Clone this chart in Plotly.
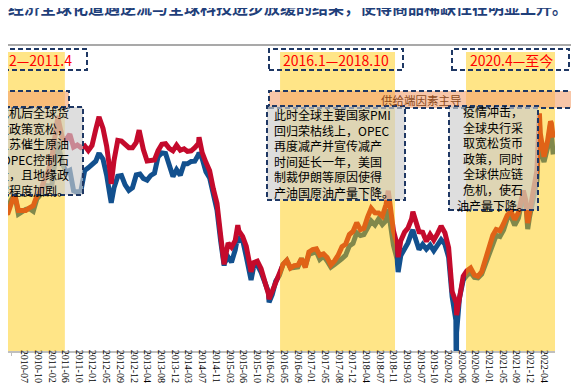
import plotly.graph_objects as go
import pandas as pd

# ---------------- data ----------------
month_start = "2010-01-01"
month_end = "2022-06-01"

brent_monthly = [
    76.2, 73.6, 79.0, 84.3, 75.6, 75.4, 75.6, 77.1, 78.2, 83.5, 86.1, 92.0,
    96.5, 103.7, 114.6, 123.3, 114.5, 113.9, 116.7, 109.8, 110.9, 109.5, 110.5, 107.9,
    110.7, 119.3, 125.5, 119.8, 110.3, 95.2, 102.6, 113.4, 113.0, 111.5, 109.5, 109.5,
    112.3, 116.1, 108.5, 102.3, 102.6, 102.9, 107.9, 111.3, 111.6, 109.1, 107.8, 110.8,
    108.1, 108.9, 107.5, 107.8, 109.5, 111.8, 106.8, 101.6, 97.1, 87.4, 79.4, 62.3,
    47.8, 58.1, 55.9, 59.5, 64.6, 61.7, 56.5, 46.5, 47.6, 48.4, 44.3, 38.0,
    30.7, 32.2, 38.2, 41.6, 46.7, 48.8, 44.7, 46.0, 46.2, 49.7, 45.0, 53.3,
    54.6, 55.0, 51.6, 52.3, 50.3, 46.4, 48.5, 51.7, 56.2, 57.5, 62.7, 64.4,
    69.1, 65.3, 66.0, 72.1, 76.8, 74.4, 74.3, 72.5, 78.9, 81.0, 64.8, 57.4,
    59.4, 64.0, 66.1, 71.2, 71.3, 64.2, 63.9, 59.0, 62.8, 59.7, 63.2, 67.3,
    63.7, 55.7, 32.0, 26.0, 29.4, 40.3, 43.2, 44.7, 40.9, 40.2, 42.7, 49.9,
    54.8, 62.3, 65.4, 64.8, 68.5, 73.2, 75.2, 70.8, 74.5, 83.5, 81.1, 74.2,
    86.5, 97.1, 117.3, 104.6, 113.3, 122.7,
]
wti_monthly = [
    78.3, 76.4, 81.2, 84.3, 73.7, 75.3, 76.3, 76.6, 75.2, 81.9, 84.3, 89.2,
    89.2, 88.6, 102.9, 109.5, 100.9, 96.3, 97.3, 86.3, 85.5, 86.3, 97.2, 98.6,
    100.3, 102.2, 106.2, 103.3, 94.7, 82.3, 87.9, 94.1, 94.5, 89.5, 86.5, 87.9,
    94.8, 95.3, 92.9, 92.0, 94.5, 95.8, 104.6, 106.6, 106.3, 100.5, 93.9, 97.6,
    94.6, 100.8, 100.8, 102.1, 102.2, 105.8, 103.6, 96.5, 93.2, 84.4, 75.8, 59.3,
    47.2, 50.6, 47.8, 54.5, 59.3, 59.8, 50.9, 42.9, 45.5, 46.2, 42.4, 37.2,
    31.7, 30.3, 37.5, 40.8, 46.7, 48.8, 44.7, 44.7, 45.2, 49.8, 45.7, 52.0,
    52.5, 53.5, 49.3, 51.1, 48.5, 45.2, 46.6, 48.0, 49.8, 51.6, 56.6, 57.9,
    63.7, 62.2, 62.7, 66.3, 70.0, 67.9, 71.0, 68.1, 70.2, 70.8, 57.0, 49.5,
    51.4, 55.0, 58.2, 63.9, 60.8, 54.7, 57.4, 54.8, 57.0, 54.0, 57.0, 59.9,
    57.5, 50.5, 29.2, 16.6, 28.6, 38.3, 40.7, 42.3, 39.6, 39.4, 41.4, 47.0,
    52.0, 59.0, 62.3, 61.7, 65.2, 71.4, 72.5, 67.7, 71.5, 81.2, 79.2, 71.7,
    83.2, 91.6, 108.5, 101.8, 109.6, 114.8,
]

# notable daily extremes
extra_dates = ["2011-04-08", "2012-03-13", "2012-06-22", "2013-02-08", "2014-06-19",
               "2015-01-13", "2015-05-06", "2015-08-24", "2016-01-20", "2018-10-03",
               "2018-12-24", "2019-04-25", "2020-04-20", "2020-04-21", "2021-10-26",
               "2021-12-01", "2022-03-08", "2022-06-08", "2022-06-30"]
extra_brent = [126.6, 126.2, 90.0, 118.9, 115.1, 46.6, 67.8, 42.7, 27.9, 86.3,
               50.5, 75.0, 25.6, 19.3, 86.4, 68.9, 128.0, 123.6, 114.8]
extra_wti = [112.8, 106.7, 79.8, 95.7, 106.9, 45.9, 62.0, 38.2, 26.2, 76.4,
             42.5, 65.2, -37.6, 10.0, 84.6, 65.6, 123.7, 122.1, 105.8]

series_names = ["WTI", "布伦特"]

tick_dates = ["2010-03-15", "2010-07-06", "2010-10-27", "2011-02-17", "2011-06-10",
              "2011-10-03", "2012-01-20", "2012-05-14", "2012-09-04", "2012-12-27",
              "2013-04-19", "2013-08-09", "2013-12-02", "2014-03-24", "2014-07-16",
              "2014-11-06", "2015-03-02", "2015-06-19", "2015-10-12", "2016-02-01",
              "2016-05-25", "2016-09-15", "2017-01-06", "2017-05-02", "2017-08-21",
              "2017-12-12", "2018-04-04", "2018-07-26", "2018-11-16", "2019-03-08",
              "2019-07-01", "2019-10-22", "2020-02-12", "2020-06-04", "2020-09-25",
              "2021-01-15", "2021-05-10", "2021-09-01", "2021-12-22", "2022-04-15"]

shade_starts = ["2009-02-01", "2016-04-20", "2020-07-08"]
shade_ends = ["2011-06-04", "2018-11-28", "2022-07-15"]

period_labels = ["2009.2—2011.4", "2016.1—2018.10", "2020.4—至今"]
band_label = "供给端因素主导"
title_text = "经济全球化遭遇逆流与全球科技进步放缓的结果，使得商品稀缺性在明显上升。"
box_texts = [
    ["金融危机后全球货", "币和财政政策宽松，", "经济复苏催生原油", "需求，OPEC控制石",
     "油产量，且地缘政", "治冲突程度加剧。"],
    ["此时全球主要国家PMI", "回归荣枯线上，OPEC", "再度减产并宣传减产", "时间延长一年，美国",
     "制裁伊朗等原因使得", "产油国原油产量下降。"],
    ["疫情冲击，", "全球央行采", "取宽松货币", "政策，同时", "全球供应链",
     "危机，使石", "油产量下降。"],
]

# ---------------- build frame ----------------
months = pd.date_range(month_start, month_end, freq="MS") + pd.Timedelta(days=14)
df = pd.DataFrame({"date": months, "brent": brent_monthly, "wti": wti_monthly})
ex = pd.DataFrame({"date": pd.to_datetime(extra_dates), "brent": extra_brent, "wti": extra_wti})
df = pd.concat([df, ex]).sort_values("date").reset_index(drop=True)

# ---------------- geometry helpers ----------------
W, H = 579, 383
ML, MR, MT, MB = 0, 32, 44, 40
PW = W - ML - MR
PH = H - MT - MB


def px(x):
    return (x - ML) / PW


def py(y):
    return (H - MB - y) / PH


NAVY = "#1F3864"
DASH = "5px,3px"

fig = go.Figure()
fig.add_trace(go.Scatter(x=df["date"], y=df["wti"], mode="lines", name=series_names[0],
                         line=dict(color="#12508E", width=5)))
fig.add_trace(go.Scatter(x=df["date"], y=df["brent"], mode="lines", name=series_names[1],
                         line=dict(color="#C40A2C", width=5)))

shapes = []
for s, e in zip(shade_starts, shade_ends):
    shapes.append(dict(type="rect", xref="x", yref="paper", x0=s, x1=e, y0=0, y1=1,
                       fillcolor="rgba(255,200,0,0.47)", line=dict(width=0), layer="above"))

# title separator line
shapes.append(dict(type="line", xref="paper", yref="paper", x0=px(0), x1=px(579),
                   y0=py(37), y1=py(37), line=dict(color="#8C8C8C", width=1.5), layer="above"))

# period label boxes
for (x0, x1) in [(-20, 79), (261, 395), (444, 561)]:
    shapes.append(dict(type="rect", xref="paper", yref="paper", x0=px(x0), x1=px(x1),
                       y0=py(62), y1=py(41), fillcolor="rgba(0,0,0,0)",
                       line=dict(color=NAVY, width=2, dash=DASH), layer="above"))

# bands
for (x0, x1) in [(-20, 61), (261, 566)]:
    shapes.append(dict(type="rect", xref="paper", yref="paper", x0=px(x0), x1=px(x1),
                       y0=py(100), y1=py(83), fillcolor="rgba(244,160,110,0.6)",
                       line=dict(color=NAVY, width=2, dash=DASH), layer="above"))

# text boxes
box_geo = [(-20, 75, 99, 187), (259, 397, 98, 192), (441, 530, 98, 202)]
for (x0, x1, y0, y1) in box_geo:
    shapes.append(dict(type="rect", xref="paper", yref="paper", x0=px(x0), x1=px(x1),
                       y0=py(y1), y1=py(y0), fillcolor="rgba(205,205,205,0.65)",
                       line=dict(color=NAVY, width=2, dash=DASH), layer="above"))

CJK = "Noto Sans CJK SC"
ann = []
ann.append(dict(text="<b>" + title_text + "</b>", x=px(-2), y=py(-1.5), xref="paper", yref="paper",
                xanchor="left", yanchor="middle", showarrow=False,
                font=dict(family=CJK, size=16, color="#1F3F7A")))
for txt, xc, xa in zip(period_labels, [66, 328, 503], ["right", "center", "center"]):
    ann.append(dict(text=txt, x=px(xc), y=py(52), xref="paper", yref="paper",
                    xanchor=xa, yanchor="middle", showarrow=False,
                    font=dict(family=CJK, size=14, color="#FF0000")))
ann.append(dict(text=band_label, x=px(413), y=py(92), xref="paper", yref="paper",
                xanchor="center", yanchor="middle", showarrow=False,
                font=dict(family=CJK, size=11.5, color="#8B4A1C")))

box_text_pos = [(63, 143, "right"), (264, 145, "left"), (485, 150, "center")]
for lines, (xx, yy, al) in zip(box_texts, box_text_pos):
    ann.append(dict(text="<br>".join(lines), x=px(xx), y=py(yy), xref="paper", yref="paper",
                    xanchor=al, yanchor="middle", align=al, showarrow=False,
                    font=dict(family=CJK, size=12, color="#000000")))

fig.update_layout(
    width=W, height=H,
    margin=dict(l=ML, r=MR, t=MT, b=MB, pad=0),
    paper_bgcolor="white", plot_bgcolor="white",
    showlegend=False,
    shapes=shapes, annotations=ann,
    xaxis=dict(type="date", range=["2010-02-18", "2022-07-15"], tickmode="array",
               tickvals=tick_dates, ticktext=tick_dates, tickangle=90,
               tickfont=dict(family="Liberation Serif", size=10, color="#000000"),
               ticklabelstandoff=-8,
               showline=True, linecolor="#BFBFBF", linewidth=1.5,
               ticks="outside", ticklen=3, tickcolor="#BFBFBF",
               showgrid=False, zeroline=False, automargin=False, fixedrange=True),
    yaxis=dict(range=[0, 161], visible=False, showgrid=False, zeroline=False,
               automargin=False, fixedrange=True),
)

fig.write_html("out.html")
